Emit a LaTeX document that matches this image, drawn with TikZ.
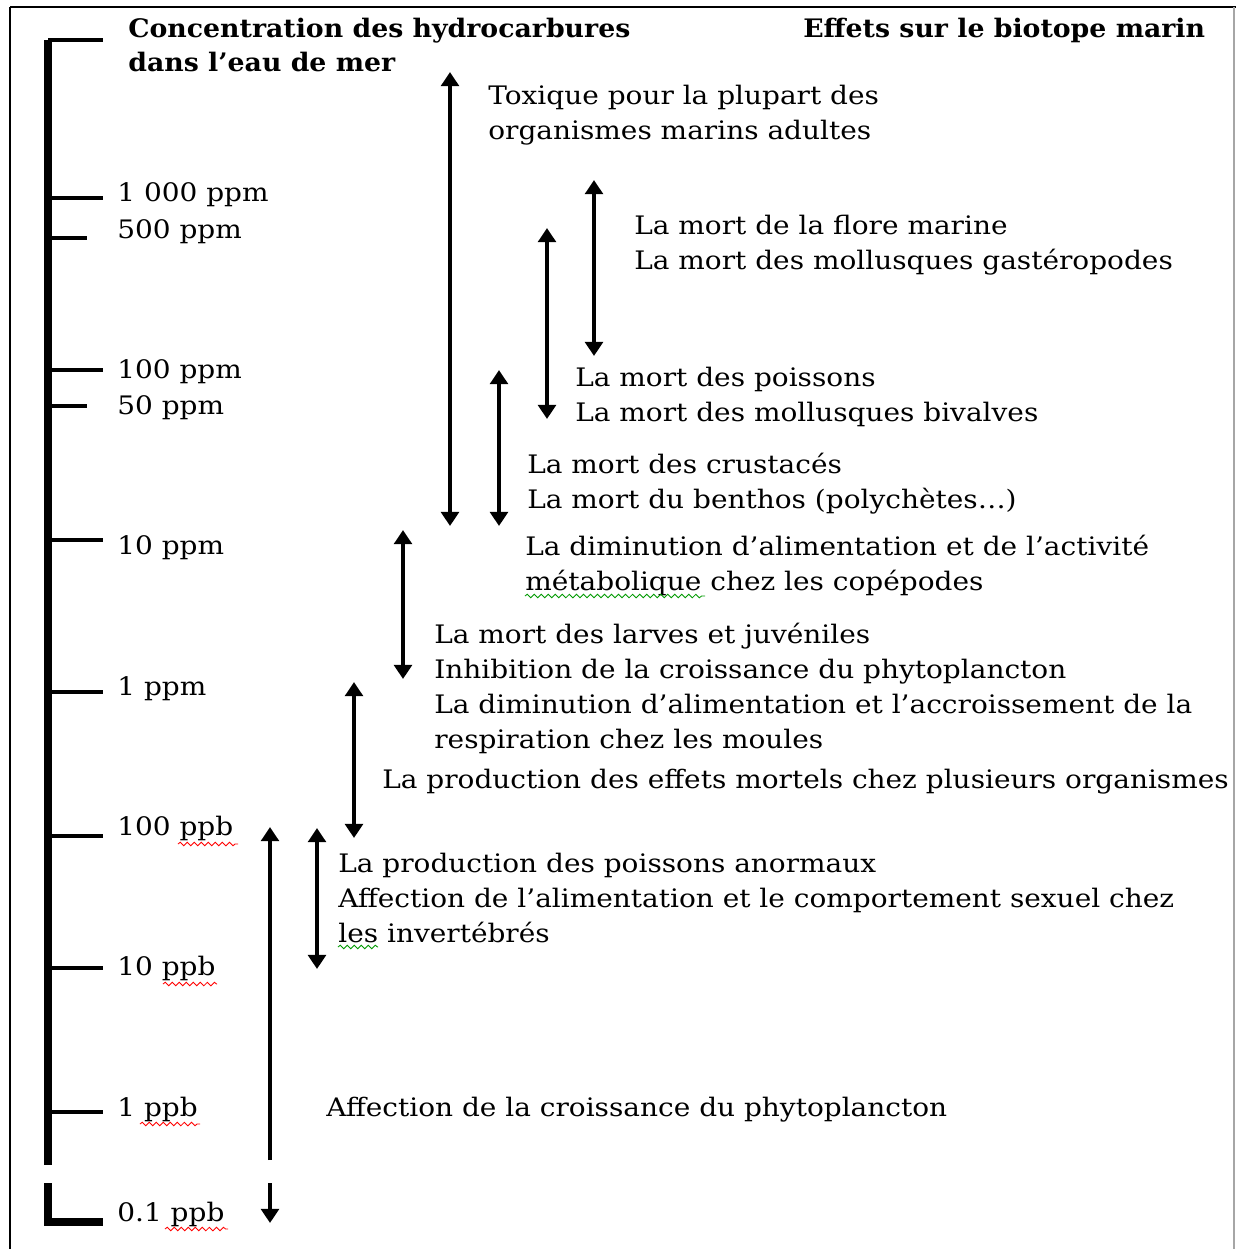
\documentclass[tikz,border=0pt]{standalone}
\usepackage{fontspec}
\setmainfont[FakeStretch=1.098,BoldFeatures={FakeStretch=1.05}]{DejaVu Serif}
\usetikzlibrary{arrows.meta,decorations.pathmorphing}
\begin{document}
\begin{tikzpicture}[x=0.02cm,y=-0.02cm,
  lbl/.style={anchor=base west,inner sep=0pt,align=left,font=\fontsize{14.5}{19.8}\selectfont},
  hdr/.style={anchor=base west,inner sep=0pt,align=left,font=\fontsize{14.5}{19.3}\selectfont\bfseries},
  axisline/.style={line width=4.2pt,line join=miter},
  tick/.style={line width=2.8pt},
  dbl/.style={line width=2.2pt,{Triangle[width=10pt,length=8pt]}-{Triangle[width=10pt,length=8pt]}},
  sgl/.style={line width=2.2pt,-{Triangle[width=10pt,length=8pt]}},
  wavy/.style={line width=0.5pt,decorate,decoration={snake,amplitude=1pt,segment length=4pt}}
]
\useasboundingbox (0,0) rectangle (1236,1249);
% frame
\draw[line width=1.6pt] (10,7) -- (1236,7);
\draw[line width=1pt] (10,7) -- (10,1249);
\draw[line width=0.6pt,gray!70] (1234,7) -- (1234,1249);

% axis
\draw[axisline] (48,40) -- (48,1165);
\draw[axisline] (48,1183) -- (48,1222) -- (103,1222);
\draw[tick] (48,40) -- (103,40);
\foreach \yy/\xx in {198/103,238/87,370/103,406/87,540/103,692/103,836/103,968/103,1112/103}
  \draw[tick] (48,\yy) -- (\xx,\yy);

% headers (anchor = baseline of last line)
\node[hdr] (h1) at (128,71) {Concentration des hydrocarbures\\dans l’eau de mer};
\node[hdr] (h2) at (803,37) {Effets sur le biotope marin};

% axis labels
\node[lbl] (l1) at (117,201) {1 000 ppm};
\node[lbl] (l2) at (117,238) {500 ppm};
\node[lbl] (l3) at (117,378) {100 ppm};
\node[lbl] (l4) at (117,414) {50 ppm};
\node[lbl] (l5) at (117,554) {10 ppm};
\node[lbl] (l6) at (117,695) {1 ppm};
\node[lbl] (l7) at (117,835) {100 ppb};
\node[lbl] (l8) at (117,975) {10 ppb};
\node[lbl] (l9) at (117,1116) {1 ppb};
\node[lbl] (l10) at (117,1221) {0.1 ppb};

% effect texts (anchor = baseline of last line)
\node[lbl] (t1) at (488,139) {Toxique pour la plupart des\\organismes marins adultes};
\node[lbl] (t2) at (634,269) {La mort de la flore marine\\La mort des mollusques gastéropodes};
\node[lbl] (t3) at (575,421) {La mort des poissons\\La mort des mollusques bivalves};
\node[lbl] (t4) at (527,508) {La mort des crustacés\\La mort du benthos (polychètes…)};
\node[lbl] (t5) at (525,590) {La diminution d’alimentation et de l’activité\\métabolique chez les copépodes};
\node[lbl] (t6) at (434,748) {La mort des larves et juvéniles\\Inhibition de la croissance du phytoplancton\\La diminution d’alimentation et l’accroissement de la\\respiration chez les moules};
\node[lbl] (t7) at (382,788) {La production des effets mortels chez plusieurs organismes};
\node[lbl] (t8) at (338,942) {La production des poissons anormaux\\Affection de l’alimentation et le comportement sexuel chez\\les invertébrés};
\node[lbl] (t9) at (326,1116) {Affection de la croissance du phytoplancton};

% arrows
\coordinate (a1t) at (450,72);  \coordinate (a1b) at (450,526);
\coordinate (a2t) at (594,180); \coordinate (a2b) at (594,356);
\coordinate (a3t) at (547,228); \coordinate (a3b) at (547,419);
\coordinate (a4t) at (499,370); \coordinate (a4b) at (499,526);
\coordinate (a5t) at (403,530); \coordinate (a5b) at (403,679);
\coordinate (a6t) at (354,682); \coordinate (a6b) at (354,838);
\coordinate (a7t) at (317,828); \coordinate (a7b) at (317,969);
\coordinate (a8t) at (270,827); \coordinate (a8b) at (270,1160);
\coordinate (a9t) at (270,1183); \coordinate (a9b) at (270,1223);
\draw[dbl] (a1t) -- (a1b);
\draw[dbl] (a2t) -- (a2b);
\draw[dbl] (a3t) -- (a3b);
\draw[dbl] (a4t) -- (a4b);
\draw[dbl] (a5t) -- (a5b);
\draw[dbl] (a6t) -- (a6b);
\draw[dbl] (a7t) -- (a7b);
\draw[sgl] (a8b) -- (a8t);
\draw[sgl] (a9t) -- (a9b);

% spell-check underlines
\draw[wavy,red] (178,844) -- (238,844);
\draw[wavy,red] (163,984) -- (217,984);
\draw[wavy,red] (140,1124) -- (200,1124);
\draw[wavy,red] (165,1229) -- (228,1229);
\draw[wavy,green!60!black] (525,596) -- (705,596);
\draw[wavy,green!60!black] (338,947) -- (378,947);
\end{tikzpicture}
\end{document}
